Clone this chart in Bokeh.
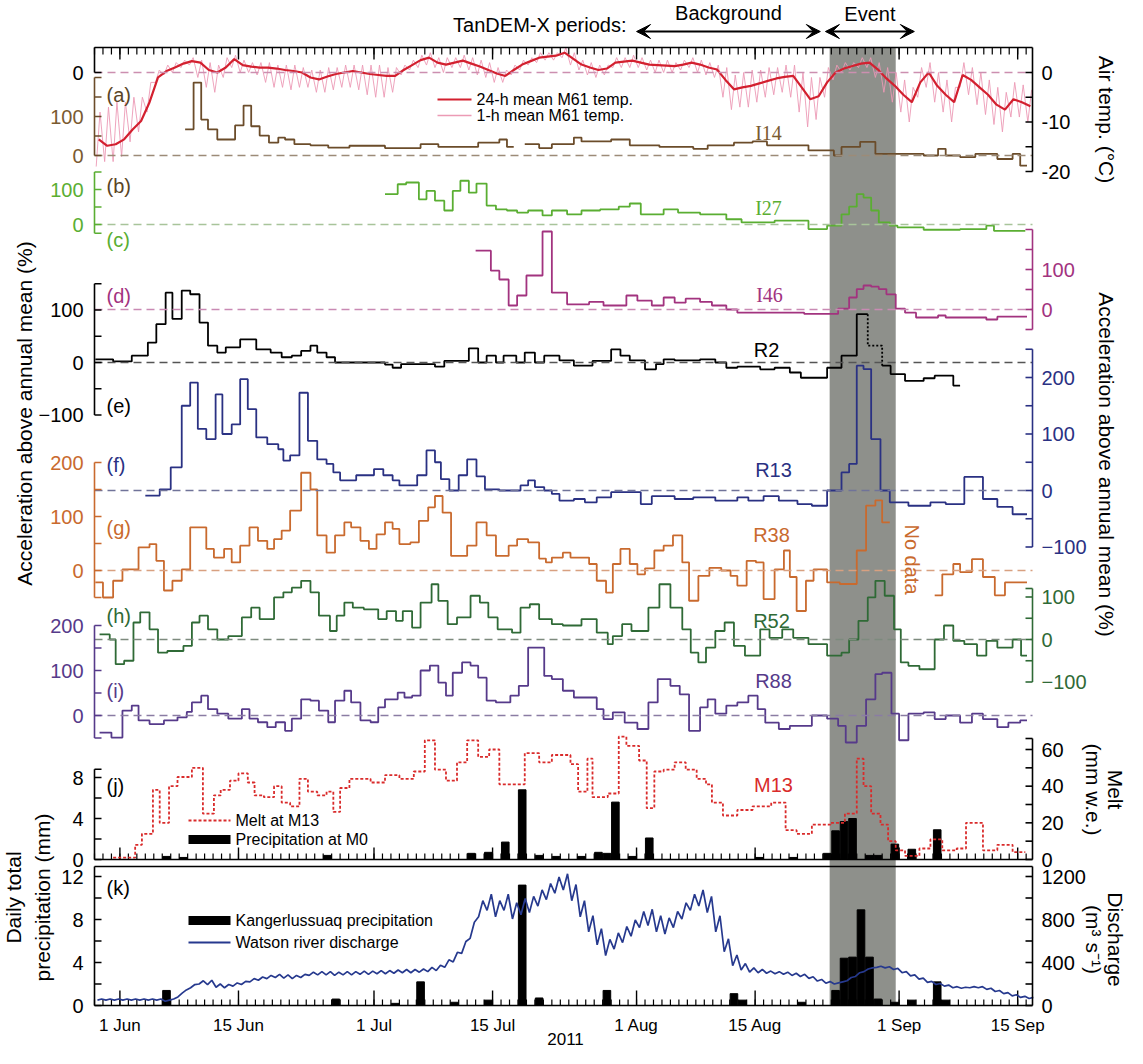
import math
import numpy as np
from bokeh.plotting import figure
from bokeh.models import (Range1d, ColumnDataSource, Arrow, VeeHead, Label, BoxAnnotation)
from bokeh.embed import file_html
from bokeh.resources import INLINE

nan = float("nan")

# ------------------------------------------------------------------ data
# days are counted from 1 June 2011 (0 = 1 Jun); step series: start day of each step
MAJOR_DAYS = [0, 14, 30, 44, 61, 75, 92, 106]
MAJOR_LABELS = ["1 Jun", "15 Jun", "1 Jul", "15 Jul", "1 Aug", "15 Aug", "1 Sep", "15 Sep"]
YEAR_LABEL = "2011"
EVENT_BAND = (83.8, 91.6)
BACKGROUND_PERIOD = (61.0, 82.7)
EVENT_PERIOD = (83.3, 93.8)

# M61 air temperature, daily values from 29 May (day -3) to 16 Sep (day 107)
TEMP_24H = [-13.5, -14.8, -14.5,
            -13.5, -11.5, -9.8, -6, -1, 0.3, 1, 1.8, 2.3, 2,
            0.5, 0, 1, 2.7, 1.5, 1.2, 1, 1, 0.8, 0.5,
            0.3, 0, -1, -1.4, -0.8, -0.3, 0, 0.3, 0, -0.3,
            -0.5, -0.7, -0.7, 0.5, 1.5, 2.5, 3, 2, 1.6, 2,
            2.4, 1.8, 1.2, 0.5, -0.2, -0.7, 0.5, 1.6, 2.3, 3,
            3.2, 3.4, 4, 2.8, 1.6, 1, 0.5, 0.8, 2, 2.2,
            2.4, 2, 1.6, 1.5, 1.4, 1.3, 1.6, 2, 1.6, 1,
            0.6, -1.5, -3.4, -3, -2.7, -2.2, -1.7, -1.2, -0.9, -0.7,
            -3, -5.4, -4.8, -2, 0, 0.8, 1.3, 1.8, 2, 0.6,
            -1.2, -2.7, -4.5, -6, -2, 0, -2.7, -4.5, -6, -0.5,
            -1.5, -3, -4.5, -6.5, -7.5, -5.4, -6, -6.8]
TEMP_1H_HIGH = [-8, -7, -6,
                -6, -5, -5, -2, 0.5, 1.5, 2, 2.5, 3, 2.5,
                2, 1.5, 3, 3.5, 2.5, 2, 2, 2, 1.5, 1.5,
                1.5, 1, 0.5, 0.5, 1, 1, 1.5, 1.5, 1.5, 1.5,
                1.5, 1, 1, 1.5, 2.5, 3.5, 4, 3, 3, 3,
                3.5, 3, 2.5, 2, 1, 0.5, 1.5, 2.5, 3, 4,
                4, 4, 5, 4, 2.5, 2, 1.5, 1.5, 3, 3,
                3.5, 3, 2.5, 2.5, 2.5, 2, 2.5, 3, 2.5, 2,
                1.5, 1, -0.5, 0, 0.5, 0.5, 1, 1, 1.5, 1.5,
                0, -1, -1, 1, 1.5, 2, 2, 3, 3, 2,
                1, 0, -1.5, -3, 1, 2, 0, -1.5, -3, 2,
                1, 0, -1.5, -3, -4, -2, -2.5, -3.5]
TEMP_1H_LOW = [-19, -18, -18,
               -17, -14, -12, -8, -2, -0.5, 0, 1, 1.5, -1,
               -3, -4, -1, 1, 0, 0, -0.5, -2, -3, -3,
               -3.5, -3, -3, -4, -4, -3.5, -3, -3, -3.5, -4.5,
               -5, -5, -4, -0.5, 0.5, 1, 1.5, 1, 0, 1,
               1, 0.5, -0.5, -1, -2, -2, -0.5, 0.5, 1.5, 2,
               2.5, 2.5, 3, 1.5, 0.5, -0.5, -1, -0.5, 1, 1,
               1, 1, 0.5, 0, 0, 0, 0.5, 1, 0, -0.5,
               -1, -5, -7.5, -7, -7, -6, -5, -4.5, -4, -5,
               -8, -11, -9.5, -5, -1.5, 0, 0.5, 1, 1, -1,
               -4, -6, -8, -10, -5, -3, -6, -8, -10, -3,
               -4.5, -6.5, -8.5, -10.5, -12, -9, -9, -10]

# accelerations above annual mean (%)
I14_D = [7.7, 8.7, 9.6, 10.4, 11.5, 13.6, 14.6, 15.5, 16.5, 17.6,
         18.7, 19.5, 20.6, 22.5, 24.6, 27.1, 31.3, 35.5, 37.6, 42.3,
         44.8, 45.7, 46.5, 47.8, 49.5, 51, 53.6, 54.5, 58, 60.2,
         63.7, 67.7, 69.4, 72.5, 74.7, 76.4, 81.3, 84.3, 85.2, 87.4,
         89.2, 94.9, 96.6, 97.5, 99.2, 101, 103.6, 105.4, 106.3]
I14_V = [67, 187, 92, 67, 41, 77, 128, 75, 51, 33,
         46, 41, 29, 26, 20, 25, 19, 29, 22, 33,
         41, 22, nan, 29, 19, 29, 46, 36, 41, 26,
         22, 17, 26, 33, 36, 26, 13, 0, 22, 35,
         4, 0, 17, 0, -4, 4, -9, 4, -26]
I14_END = 107.1

I27_D = [31.3, 32.8, 33.8, 35.3, 36.2, 37.2, 38.3, 39.3, 40.2, 41.2,
         42.1, 43.3, 44.4, 45.7, 46.9, 48.2, 49.9, 51, 52.8, 54.5,
         56.7, 58.9, 60.2, 61.5, 64.2, 65.9, 68.5, 71.6, 73.4, 77.3,
         81.3, 83.5, 85.2, 86.1, 87, 87.8, 88.7, 89.6, 90.9, 91.8,
         94.9, 99.2, 102.3, 103.2]
I27_V = [87, 115, 120, 72, 96, 68, 40, 96, 125, 91,
         117, 54, 43, 40, 34, 40, 26, 40, 29, 40,
         43, 51, 60, 29, 43, 34, 29, 15, 6, 11,
         -13, -3, 29, 51, 87, 77, 40, 6, -3, -8,
         -15, -13, -3, -18]
I27_END = 106.9

I46_D = [42.0, 43.8, 44.8, 45.9, 46.9, 48.0, 49.9, 51.0, 52.8, 55.4,
         57.1, 59.8, 61.1, 62.8, 64.2, 65.5, 66.8, 68.5, 69.9, 71.6,
         72.9, 80.8, 84.8, 86.1, 87.0, 87.8, 88.7, 89.6, 90.5, 91.6,
         92.7, 94.0, 96.6, 97.5, 102.3, 103.6]
I46_V = [147, 97, 75, 10, 35, 85, 195, 42, 13, 19,
         10, 35, 22, 10, 30, 17, 27, 19, 10, 0,
         -8, -11, 2, 30, 51, 60, 57, 51, 38, 2,
         -8, -20, -15, -20, -25, -18]
I46_END = 107.1

R2_D = [-2.9, -0.8, 1.4, 3.3, 4.3, 5.4, 6.2, 7.3, 8.3, 9.4,
        10.4, 11.5, 12.5, 14.2, 16.1, 17.8, 19.1, 20.3, 21.4, 22.5,
        23.3, 24.4, 25.4, 31.3, 32.2, 33.2, 37.2, 38.3, 41.2, 42.3,
        43.3, 44.4, 45.3, 46.8, 47.8, 49.0, 50.1, 51.9, 53.6, 55.8,
        58.0, 59.1, 60.2, 62.0, 63.3, 64.2, 65.5, 68.5, 70.3, 71.6,
        72.9, 75.6, 77.3, 79.1, 80.4, 83.5, 85.2, 87.0, 88.3, 90.0,
        91.0, 92.7, 94.9, 96.2, 98.4]
R2_V = [6, 2, 13, 38, 73, 133, 83, 137, 130, 76,
        32, 19, 29, 44, 25, 19, 10, 13, 22, 32,
        19, 10, 0, -4, -10, -3, -8, 3, 27, 0,
        13, 0, 13, 0, 19, 0, 13, 4, -6, 3,
        25, 13, 4, -13, -3, 6, 4, 6, 0, -10,
        -8, -13, -10, -19, -29, -10, 13, 92, nan, -6,
        -22, -35, -30, -25, -44]
R2_END = 99.2
R2_DOTTED_D = [88.3, 88.3, 90.0, 90.0]
R2_DOTTED_V = [92, 32, 32, -6]

R13_D = [3.0, 4.7, 6.0, 7.3, 8.3, 9.2, 10.2, 11.3, 12.1, 13.2,
         14.2, 15.1, 16.1, 17.4, 18.7, 19.3, 20.1, 21.2, 22.2, 23.3,
         24.4, 25.2, 26.0, 27.9, 30.0, 31.1, 32.2, 33.0, 35.1, 36.2,
         37.2, 37.9, 38.9, 40.0, 41.0, 42.1, 43.1, 44.8, 47.3, 48.2,
         49.0, 50.1, 51.0, 51.9, 53.6, 54.9, 56.3, 58.0, 61.5, 62.8,
         65.5, 67.7, 70.3, 72.9, 74.2, 76.0, 77.8, 80.0, 81.7, 83.5,
         85.2, 86.1, 87.0, 87.8, 88.7, 89.8, 90.9, 93.1, 95.7, 97.5,
         99.7, 101.9, 103.6, 105.4]
R13_V = [-9, 2, 41, 150, 191, 109, 91, 170, 100, 117,
         197, 144, 94, 82, 73, 53, 62, 173, 88, 55,
         47, 32, 18, 27, 38, 27, 18, 9, 27, 71,
         50, 20, 0, 27, 55, 25, 2, 0, 9, 18,
         6, 0, -6, -18, -15, -21, -12, -3, -24, -10,
         -15, -12, -18, -12, -18, -10, -18, -24, -27, 0,
         32, 47, 221, 215, 91, 0, -21, -27, -21, -24,
         24, -15, -29, -42]
R13_END = 107.1

R38_D = [-2.9, -2.0, -0.8, 0.3, 2.2, 3.5, 4.3, 5.2, 6.2, 7.3,
         8.3, 10.2, 11.1, 12.3, 13.2, 14.2, 15.3, 16.3, 17.4, 18.2,
         19.1, 20.1, 21.4, 22.5, 23.3, 24.4, 25.4, 26.5, 27.3, 28.4,
         29.4, 30.3, 31.3, 32.2, 33.0, 34.3, 35.3, 36.4, 37.2, 38.1,
         39.1, 41.0, 42.1, 43.3, 44.4, 45.9, 46.9, 48.2, 49.5, 50.3,
         51.0, 52.3, 53.2, 55.4, 56.3, 57.4, 58.2, 59.1, 60.2, 61.1,
         62.0, 63.1, 64.2, 65.3, 66.4, 67.2, 68.3, 69.6, 71.0, 72.1,
         72.9, 74.0, 75.1, 76.0, 77.3, 78.4, 79.1, 79.9, 81.0, 81.9,
         83.5, 85.0, 87.0, 88.1, 89.2, 90.0, 90.9, 96.2, 97.1, 98.4,
         99.2, 100.6, 101.9, 103.3, 104.5, 106.0]
R38_V = [-22, -50, -19, 2, 43, 49, 18, -37, -19, 2,
         80, 40, 24, 40, 15, 46, 80, 55, 40, 58,
         74, 111, 181, 150, 65, 33, 65, 89, 80, 55,
         40, 67, 89, 77, 49, 52, 92, 117, 138, 107,
         27, 46, 89, 65, 27, 46, 58, 52, 22, 15,
         24, 33, 24, 12, -19, -41, 12, 40, 12, -7,
         4, 37, 46, 65, 15, -56, -10, 5, 0, -10,
         -28, 18, 15, -53, 2, 37, -12, -75, -19, 2,
         -22, -25, 37, 120, 130, 89, nan, -46, -7, 12,
         -3, 21, -12, -46, -22, -22]
R38_END = 107.1

R52_D = [-2.4, -1.2, -0.5, 0.5, 1.6, 2.4, 3.5, 4.5, 5.6, 7.5,
         8.5, 9.4, 10.4, 11.5, 12.8, 14.4, 15.5, 16.5, 18.2, 19.3,
         20.3, 21.4, 22.5, 23.5, 24.8, 25.6, 26.5, 27.5, 28.8, 30.5,
         31.5, 32.6, 33.4, 34.5, 35.5, 36.8, 37.6, 38.7, 39.8, 41.4,
         42.5, 43.5, 44.6, 46.3, 47.3, 48.4, 49.5, 51.0, 52.3, 54.5,
         56.3, 57.6, 58.2, 59.3, 60.4, 62.4, 63.7, 65.0, 66.4, 67.4,
         68.3, 69.2, 70.3, 71.4, 72.5, 73.8, 75.6, 76.7, 78.2, 79.5,
         81.3, 83.5, 85.2, 86.1, 87.2, 88.3, 89.2, 90.3, 91.4, 92.2,
         93.1, 94.4, 96.2, 97.3, 98.4, 99.7, 101.2, 102.3, 103.6, 105.4,
         106.4]
R52_V = [12, 0, -58, -50, 40, 64, 24, -31, -27, -15,
         40, 56, 24, 0, 8, 52, 75, 48, 99, 111,
         122, 138, 111, 56, 20, 56, 87, 75, 71, 48,
         67, 44, 67, 28, 87, 130, 91, 36, 52, 103,
         87, 52, 24, 16, 75, 83, 48, 36, 33, 48,
         16, -11, 8, 36, 20, 75, 130, 75, 24, -31,
         -54, -19, 20, 40, -15, -38, 24, 4, 24, 4,
         -11, -38, -31, 0, 44, 99, 138, 103, 24, -54,
         -62, -70, 0, 33, -3, -11, -38, -3, -19, 0,
         -38]
R52_END = 107.1

R88_D = [-2.4, -1.0, 0.3, 1.4, 2.2, 3.5, 5.2, 6.8, 7.9, 8.5,
         9.6, 10.4, 11.5, 12.8, 14.4, 15.3, 16.3, 17.4, 18.4, 19.5,
         20.3, 21.4, 22.5, 23.5, 24.6, 25.4, 26.5, 27.3, 28.4, 29.6,
         30.5, 31.3, 32.8, 33.6, 34.5, 35.5, 36.6, 37.6, 38.5, 39.3,
         40.4, 41.4, 42.3, 43.3, 44.4, 46.1, 47.1, 48.2, 50.1, 51.0,
         52.3, 53.6, 56.3, 57.1, 58.2, 59.6, 61.1, 62.4, 63.5, 65.0,
         66.1, 67.2, 68.5, 69.4, 70.3, 71.6, 72.9, 74.2, 75.3, 76.2,
         77.8, 79.1, 81.7, 83.5, 84.8, 85.7, 87.0, 88.1, 89.2, 90.0,
         91.1, 92.0, 93.1, 94.9, 96.2, 97.5, 99.2, 100.6, 101.9, 103.6,
         104.9, 106.3]
R88_V = [-38, -49, 11, 22, -11, -19, -11, -4, 8, 29,
         44, 14, 4, -7, 14, -7, -15, -26, -15, -34,
         -7, 36, 33, 11, -15, 33, 55, 29, -11, -15,
         18, 36, 51, 40, 44, 100, 111, 73, 44, 95,
         118, 111, 84, 33, 29, 44, 66, 151, 88, 81,
         55, 40, 14, -8, 7, -16, -30, 29, 81, 66,
         47, -34, 18, 36, 4, 22, 29, 44, 14, -16,
         -30, -23, 0, -7, -23, -60, -23, 36, 92, 95,
         4, -55, 4, 7, -8, 0, -16, 4, -8, -26,
         -16, -11]
R88_END = 107.1

# (j) melt at M13 (mm w.e.) and precipitation at M0 (mm)
MELT_D = [-0.8, 1.8, 2.6, 3.9, 4.7, 5.8, 6.8, 8.5, 9.8, 11.1,
          11.9, 13, 14, 15.1, 15.9, 17, 18.2, 19.1, 20.1, 21.2,
          22.2, 23.3, 24.4, 25.2, 26, 27.1, 29.6, 31.3, 33, 34.7,
          36, 37.2, 38.5, 39.8, 41, 42.3, 43.6, 44.8, 47.8, 49.5,
          51, 53.2, 54.1, 55.2, 55.8, 57.6, 58.9, 59.8, 61.3, 62.2,
          63.1, 64.2, 65.5, 66.8, 68.1, 69.2, 69.9, 71.2, 72.9, 74.7,
          76.9, 78.6, 79.9, 81.7, 83.9, 85.6, 87, 87.8, 88.7, 89.8,
          90.7, 91.6, 92.7, 94.4, 95.7, 97.1, 98.8, 99.9, 101.9, 103.6,
          105.4]
MELT_V = [1, 8, 14, 38, 20, 40, 45, 50, 25, 35,
          38, 43, 47, 42, 35, 34, 40, 31, 29, 44,
          37, 35, 37, 26, 39, 44, 42, 46, 44, 48,
          65, 49, 43, 53, 65, 56, 60, 41, 58, 53,
          57, 52, 37, 55, 34, 36, 67, 62, 54, 28,
          48, 49, 53, 49, 44, 41, 31, 24, 27, 29,
          31, 16, 14, 19, 20, 25, 55, 40, 25, 19,
          10, 5, 2, 6, 11, 5, 6, 20, 5, 8,
          4]
MELT_END = 106.9

PRECIP_M0_DAY = [5, 7, 24, 41, 43, 45, 47, 49, 51, 54,
                 56, 57, 58, 60, 62, 75, 79, 83, 84, 85,
                 86, 88, 89, 91, 93, 96]
PRECIP_M0_MM = [0.3, 0.2, 0.4, 0.6, 0.7, 1.7, 6.8, 0.4, 0.3, 0.3,
                0.7, 0.6, 5.6, 0.3, 2.1, 0.2, 0.2, 0.6, 2.8, 3.7,
                4.0, 0.4, 0.4, 1.5, 1.0, 2.9]

# (k) Kangerlussuaq precipitation (mm) and Watson river discharge (m3/s)
PRECIP_KAN_DAY = [5, 25, 32, 35, 39, 43, 47, 49, 57, 72,
                  73, 80, 84, 85, 86, 87, 88, 89, 91, 93,
                  96, 97]
PRECIP_KAN_MM = [1.4, 0.6, 0.2, 2.2, 0.3, 0.5, 11.2, 0.7, 1.4, 1.1,
                 0.5, 0.3, 1.4, 4.4, 4.5, 8.9, 4.5, 0.6, 0.3, 0.5,
                 2.2, 0.5]
# daily level and diurnal peak-to-peak swing, day -3 .. 107
Q_MEAN = [55, 55, 55,
          55, 55, 55, 55, 55, 45, 70, 130, 180, 215,
          215, 185, 180, 195, 210, 235, 250, 265, 275, 270,
          265, 275, 295, 300, 300, 295, 300, 300, 305, 305,
          310, 310, 315, 320, 320, 325, 335, 350, 390, 450,
          540, 700, 900, 960, 900, 960, 880, 920, 940, 1000,
          1060, 1120, 1150, 1050, 900, 760, 640, 540, 600, 660,
          720, 800, 820, 760, 740, 800, 880, 960, 1000, 940,
          760, 560, 420, 360, 330, 320, 310, 305, 300, 290,
          280, 260, 235, 215, 205, 225, 265, 310, 345, 360,
          355, 340, 310, 280, 250, 220, 200, 185, 170, 165,
          170, 170, 155, 135, 115, 95, 80, 70]
Q_SWING = [10, 10, 10,
           10, 10, 10, 10, 10, 10, 20, 30, 30, 30,
           40, 30, 30, 30, 30, 30, 30, 30, 30, 30,
           30, 30, 30, 30, 30, 30, 30, 30, 30, 30,
           30, 30, 30, 30, 30, 30, 40, 50, 70, 90,
           110, 150, 150, 150, 150, 150, 150, 150, 150, 150,
           150, 150, 150, 150, 150, 150, 150, 150, 150, 150,
           150, 150, 150, 150, 150, 150, 150, 150, 150, 150,
           150, 120, 100, 60, 40, 30, 20, 20, 20, 20,
           20, 15, 15, 15, 10, 10, 10, 10, 10, 10,
           10, 10, 10, 10, 10, 10, 10, 10, 10, 10,
           10, 10, 10, 10, 10, 10, 10, 10]

for a, b in [(I14_D, I14_V), (I27_D, I27_V), (I46_D, I46_V), (R2_D, R2_V), (R13_D, R13_V),
             (R38_D, R38_V), (R52_D, R52_V), (R88_D, R88_V), (MELT_D, MELT_V),
             (PRECIP_M0_DAY, PRECIP_M0_MM), (PRECIP_KAN_DAY, PRECIP_KAN_MM)]:
    assert len(a) == len(b), (len(a), len(b))
for arr in (TEMP_24H, TEMP_1H_HIGH, TEMP_1H_LOW, Q_MEAN, Q_SWING):
    assert len(arr) == 111, len(arr)

# ------------------------------------------------------------------ layout (page pixels)
W, H = 1127, 1048
PX0, PY0 = 8, 8                      # canvas origin on the page
PX1, PY1 = PX0 + W, PY0 + H
X_L, X_R = 102, 1040                 # chart frame, page pixels
Y_TOP, Y_BOT = 55, 1013
DAY_START, DAY_END = -3.0, 107.75
SANS = "Liberation Sans"
SERIF = "Liberation Serif"
TICK_FS = 20

C_BROWN = "#6b4c2a"
C_GREEN = "#5aae32"
C_MAGENTA = "#a2337f"
C_NAVY = "#2a3183"
C_ORANGE = "#c96a2e"
C_DKGREEN = "#2f6a36"
C_PURPLE = "#563a8a"
C_RED = "#d3202f"
C_PINK = "#ec9ab5"
C_MELT = "#d92b2b"
C_Q = "#26398e"
C_BAND = "#8e908b"

JUN1_MS = 1306886400000.0
DAY_MS = 86400000.0


def ms(d):
    return JUN1_MS + np.asarray(d, dtype=float) * DAY_MS


DPP = (DAY_END - DAY_START) / (X_R - X_L)
x_start = float(ms(DAY_START - (X_L - PX0) * DPP))
x_end = float(ms(DAY_END + (PX1 - X_R) * DPP))

p = figure(width=W, height=H, output_backend="svg", toolbar_location=None, title=None,
           x_axis_type="datetime", x_axis_location=None, y_axis_location=None,
           x_range=Range1d(x_start, x_end), y_range=Range1d(PY1, PY0),
           min_border=0, min_border_left=0, min_border_right=0,
           min_border_top=0, min_border_bottom=0)
p.grid.visible = False
p.outline_line_color = None
p.background_fill_color = "white"
p.border_fill_color = "white"

yr = {}


def band(name, v0, y0, v1, y1):
    s = (v1 - v0) / (y1 - y0)
    yr[name] = Range1d(start=v0 + (PY1 - y0) * s, end=v0 + (PY0 - y0) * s)


def val_at(name, ypix):
    r = yr[name]
    return r.start + (r.end - r.start) * (PY1 - ypix) / (PY1 - PY0)


band("T", 0, 80, -20, 179)
band("I14", 0, 163, 100, 124)
band("I27", 0, 232, 100, 197)
band("I46", 0, 317, 100, 277)
band("R2", 0, 370, 100, 317.5)
band("R13", 0, 498, 100, 441.5)
band("R38", 0, 578, 100, 524)
band("R52", 0, 647, 100, 604.5)
band("R88", 0, 723, 100, 678)
band("PJ", 0, 867, 8, 785)
band("MJ", 0, 867, 60, 757)
band("PK", 0, Y_BOT, 12, 884)
band("QK", 0, Y_BOT, 1200, 884)
p.extra_y_ranges = yr
p.extra_x_ranges = {"px": Range1d(PX0, PX1)}

# event band
p.add_layout(BoxAnnotation(left=float(ms(EVENT_BAND[0])), right=float(ms(EVENT_BAND[1])),
                           top=Y_TOP, bottom=Y_BOT,
                           fill_color=C_BAND, fill_alpha=1.0, line_color=None, level="underlay"))


# ------------------------------------------------------------------ helpers
def txt(x, y, s, size, color="black", align="center", angle=0.0, font=SANS, rn="default",
        xr="px", baseline="middle"):
    p.add_layout(Label(x=x, y=y, text=s, x_range_name=xr, y_range_name=rn, text_font=font,
                       text_font_size=f"{size}px", text_color=color, text_align=align,
                       text_baseline=baseline, angle=angle))


def hline(x0, x1, y, color="black", width=1.6, dash="solid", rn="default"):
    p.add_layout(Arrow(x_start=x0, y_start=y, x_end=x1, y_end=y, end=None, x_range_name="px",
                       y_range_name=rn, line_color=color, line_width=width, line_dash=dash))


def vaxis(side, rn, lo, hi, ticks, labels, color, label_color=None):
    x = X_L if side == "left" else X_R
    dx = 7 if side == "left" else -7
    p.add_layout(Arrow(x_start=x, y_start=lo, x_end=x, y_end=hi, end=None, x_range_name="px",
                       y_range_name=rn, line_color=color, line_width=1.6))
    src = ColumnDataSource(dict(x0=[x] * len(ticks), x1=[x + dx] * len(ticks), y=list(ticks)))
    p.add_layout(Arrow(x_start="x0", y_start="y", x_end="x1", y_end="y", source=src, end=None,
                       x_range_name="px", y_range_name=rn, line_color=color, line_width=1.6))
    for v, t in labels:
        if side == "left":
            txt(x - 11, v, t, TICK_FS, label_color or color, "right", rn=rn)
        else:
            txt(x + 9, v, t, TICK_FS, label_color or color, "left", rn=rn)


def zero(rn, color):
    hline(X_L, X_R, 0, color, 1.3, "8 5", rn=rn)


def date_ticks(rn, yval, angle, minor_len, major_len):
    minor_days = np.arange(-3, 108)
    p.ray(x=ms(minor_days), y=[yval] * len(minor_days), length=minor_len, angle=angle,
          length_units="screen", y_range_name=rn, line_color="black", line_width=1.2)
    p.ray(x=ms(MAJOR_DAYS), y=[yval] * len(MAJOR_DAYS), length=major_len, angle=angle,
          length_units="screen", y_range_name=rn, line_color="black", line_width=1.4)


def step_path(days, vals, end):
    edges = list(days) + [end]
    xs, ys = [], []
    for i, v in enumerate(vals):
        if isinstance(v, float) and math.isnan(v):
            xs.append(edges[i])
            ys.append(nan)
            continue
        xs += [edges[i], edges[i + 1]]
        ys += [v, v]
    return ms(xs), np.array(ys, dtype=float)


def step_series(rn, days, vals, end, color, width=1.8, dash="solid"):
    xs, ys = step_path(days, vals, end)
    p.line(xs, ys, y_range_name=rn, line_color=color, line_width=width, line_dash=dash)


# ------------------------------------------------------------------ frame lines & time axes
hline(X_L, X_R, Y_TOP)                                   # top ruler
date_ticks("T", val_at("T", Y_TOP), -math.pi / 2, 7, 12)
hline(X_L, X_R, 867)                                     # (j) time axis
date_ticks("PJ", 0, math.pi / 2, 6, 12)
hline(X_L, X_R, 874)                                     # (k) box top
hline(X_L, X_R, Y_BOT)                                   # bottom time axis
date_ticks("PK", 0, math.pi / 2, 6, 15)
for d, s in zip(MAJOR_DAYS, MAJOR_LABELS):
    txt(float(ms(d)), 1033, s, 17, xr="default")
txt(573, 1046, YEAR_LABEL, 17)

# ------------------------------------------------------------------ zero lines
zero("T", "#cc8fb0")
zero("I14", "#9c8b78")
zero("I27", "#a8c49a")
zero("I46", "#c98ab4")
zero("R2", "#555555")
zero("R13", "#707399")
zero("R38", "#d8a080")
zero("R52", "#7d8a7e")
zero("R88", "#8a7ca3")

# ------------------------------------------------------------------ (a) temperature
tdays = np.arange(-3, 108)
tx, ty = [], []
for d, lo, hi in zip(tdays, TEMP_1H_LOW, TEMP_1H_HIGH):
    tx += [d + 0.2, d + 0.65]
    ty += [lo, hi]
p.line(ms(tx), ty, y_range_name="T", line_color=C_PINK, line_width=0.9)
p.line(ms(tdays + 0.5), TEMP_24H, y_range_name="T", line_color=C_RED, line_width=2.2)

# ------------------------------------------------------------------ acceleration series
step_series("I14", I14_D, I14_V, I14_END, C_BROWN)
step_series("I27", I27_D, I27_V, I27_END, C_GREEN)
step_series("I46", I46_D, I46_V, I46_END, C_MAGENTA)
step_series("R2", R2_D, R2_V, R2_END, "black")
p.line(ms(R2_DOTTED_D), R2_DOTTED_V, y_range_name="R2", line_color="black", line_width=1.8,
       line_dash="2 2")
step_series("R13", R13_D, R13_V, R13_END, C_NAVY)
step_series("R38", R38_D, R38_V, R38_END, C_ORANGE)
step_series("R52", R52_D, R52_V, R52_END, C_DKGREEN)
step_series("R88", R88_D, R88_V, R88_END, C_PURPLE)

# ------------------------------------------------------------------ (j) melt + precip
p.vbar(x=ms(np.array(PRECIP_M0_DAY) + 0.5), top=PRECIP_M0_MM, bottom=0, width=0.9 * DAY_MS,
       y_range_name="PJ", fill_color="black", line_color="black")
step_series("MJ", MELT_D, MELT_V, MELT_END, C_MELT, width=1.8, dash="3 2")

# ------------------------------------------------------------------ (k) precip + discharge
p.vbar(x=ms(np.array(PRECIP_KAN_DAY) + 0.5), top=PRECIP_KAN_MM, bottom=0, width=0.9 * DAY_MS,
       y_range_name="PK", fill_color="black", line_color="black")
qx, qy = [], []
for d, m, s in zip(tdays, Q_MEAN, Q_SWING):
    qx += [d + 0.35, d + 0.85]
    qy += [m - s / 2, m + s / 2]
p.line(ms(qx), qy, y_range_name="QK", line_color=C_Q, line_width=1.7)

# ------------------------------------------------------------------ panel y axes
t_top = val_at("T", Y_TOP)
vaxis("left", "T", 0, t_top, [0], [(0, "0")], "black")
vaxis("right", "T", -20, t_top, [0, -5, -10, -15, -20], [(0, "0"), (-10, "-10"), (-20, "-20")], "black")
vaxis("left", "I14", 0, 200, [0, 50, 100, 150, 200], [(100, "100"), (0, "0")], C_BROWN, "#7a5a30")
vaxis("left", "I27", -25, 150, [-25, 0, 50, 100, 150], [(100, "100"), (0, "0")], C_GREEN)
vaxis("right", "I46", -50, 200, [-50, 0, 50, 100, 150, 200], [(100, "100"), (0, "0")], C_MAGENTA)
vaxis("left", "R2", -100, 150, [-100, -50, 0, 50, 100, 150],
      [(100, "100"), (0, "0"), (-100, "\u2212100")], "black")
vaxis("right", "R13", -100, 250, [-100, -50, 0, 50, 100, 150, 200, 250],
      [(200, "200"), (100, "100"), (0, "0"), (-100, "\u2212100")], C_NAVY)
vaxis("left", "R38", -50, 200, [-50, 0, 50, 100, 150, 200],
      [(200, "200"), (100, "100"), (0, "0")], C_ORANGE)
vaxis("right", "R52", -100, 120, [-100, -50, 0, 50, 100, 120],
      [(100, "100"), (0, "0"), (-100, "\u2212100")], C_DKGREEN)
vaxis("left", "R88", -50, 200, [-50, 0, 50, 100, 150, 200],
      [(200, "200"), (100, "100"), (0, "0")], C_PURPLE)
vaxis("left", "PJ", 0, 8.8, [0, 2, 4, 6, 8, 8.8], [(8, "8"), (4, "4"), (0, "0")], "black")
vaxis("right", "MJ", 0, 66, [0, 10, 20, 30, 40, 50, 60, 66],
      [(60, "60"), (40, "40"), (20, "20"), (0, "0")], "black")
k_top = val_at("PK", 874)
vaxis("left", "PK", 0, k_top, [0, 2, 4, 6, 8, 10, 12], [(12, "12"), (8, "8"), (4, "4"), (0, "0")], "black")
q_top = val_at("QK", 874)
vaxis("right", "QK", 0, q_top, [0, 200, 400, 600, 800, 1000, 1200],
      [(1200, "1200"), (800, "800"), (400, "400"), (0, "0")], "black")

# ------------------------------------------------------------------ panel letters & series names
for s, y, c in [("(a)", 102, "#5a4526"), ("(b)", 193, "#5a4526"), ("(c)", 247, C_GREEN),
                ("(d)", 303, C_MAGENTA), ("(e)", 413, "black"), ("(f)", 472, C_NAVY),
                ("(g)", 535, C_ORANGE), ("(h)", 623, C_DKGREEN), ("(i)", 698, C_PURPLE),
                ("(j)", 793, "black"), ("(k)", 895, "black")]:
    txt(114, y, s, 20, c, "left")

for s, x, y, c, f in [("I14", 776, 140, "#7a5a30", SERIF), ("I27", 776, 215, C_GREEN, SERIF),
                      ("I46", 777, 302, C_MAGENTA, SERIF), ("R2", 774, 357, "black", SANS),
                      ("R13", 781, 477, C_NAVY, SANS), ("R38", 779, 542, C_ORANGE, SANS),
                      ("R52", 779, 628, C_DKGREEN, SANS), ("R88", 781, 688, C_PURPLE, SANS),
                      ("M13", 781, 792, C_MELT, SANS)]:
    txt(x, y, s, 20, c, "center", font=f)

txt(919, 567, "No data", 20, C_ORANGE, "center", angle=-math.pi / 2)

# ------------------------------------------------------------------ legends
hline(445, 479, 107, C_RED, 2.2)
txt(484, 107, "24-h mean M61 temp.", 16, "black", "left")
hline(445, 479, 123, C_PINK, 1.6)
txt(484, 123, "1-h mean M61 temp.", 16, "black", "left")

hline(196, 238, 828, C_MELT, 1.8, "3 2")
txt(243, 828, "Melt at M13", 16, "black", "left")
hline(196, 238, 847, "black", 9)
txt(243, 847, "Precipitation at M0", 16, "black", "left")

hline(196, 238, 928, "black", 9)
txt(243, 928, "Kangerlussuaq precipitation", 16, "black", "left")
hline(196, 238, 950, C_Q, 1.8)
txt(243, 950, "Watson river discharge", 16, "black", "left")

# ------------------------------------------------------------------ TanDEM-X periods
for a, b in (BACKGROUND_PERIOD, EVENT_PERIOD):
    p.add_layout(Arrow(x_start=float(ms(a)), y_start=39, x_end=float(ms(b)), y_end=39,
                       start=VeeHead(size=14, fill_color="black", line_color="black"),
                       end=VeeHead(size=14, fill_color="black", line_color="black"),
                       line_color="black", line_width=2))
txt(float(ms(sum(BACKGROUND_PERIOD) / 2)), 20, "Background", 20, xr="default")
txt(float(ms(sum(EVENT_PERIOD) / 2)), 21, "Event", 20, xr="default")
txt(634, 32, "TanDEM-X periods:", 20, "black", "right")

# ------------------------------------------------------------------ axis titles
txt(1114, 127, "Air temp. (\u00b0C)", 21, angle=-math.pi / 2)
txt(1114, 472, "Acceleration above annual mean (%)", 21, angle=-math.pi / 2)
txt(1123, 797, "Melt", 21, angle=-math.pi / 2)
txt(1101, 797, "(mm w.e.)", 21, angle=-math.pi / 2)
txt(1123, 947, "Discharge", 21, angle=-math.pi / 2)
txt(1101, 947, "(m\u00b3 s\u207b\u00b9)", 21, angle=-math.pi / 2)
txt(32, 421, "Acceleration above annual mean (%)", 21, angle=math.pi / 2)
txt(21, 905, "Daily total", 21, angle=math.pi / 2)
txt(50, 905, "precipitation (mm)", 21, angle=math.pi / 2)

open("out.html", "w").write(file_html(p, INLINE))
